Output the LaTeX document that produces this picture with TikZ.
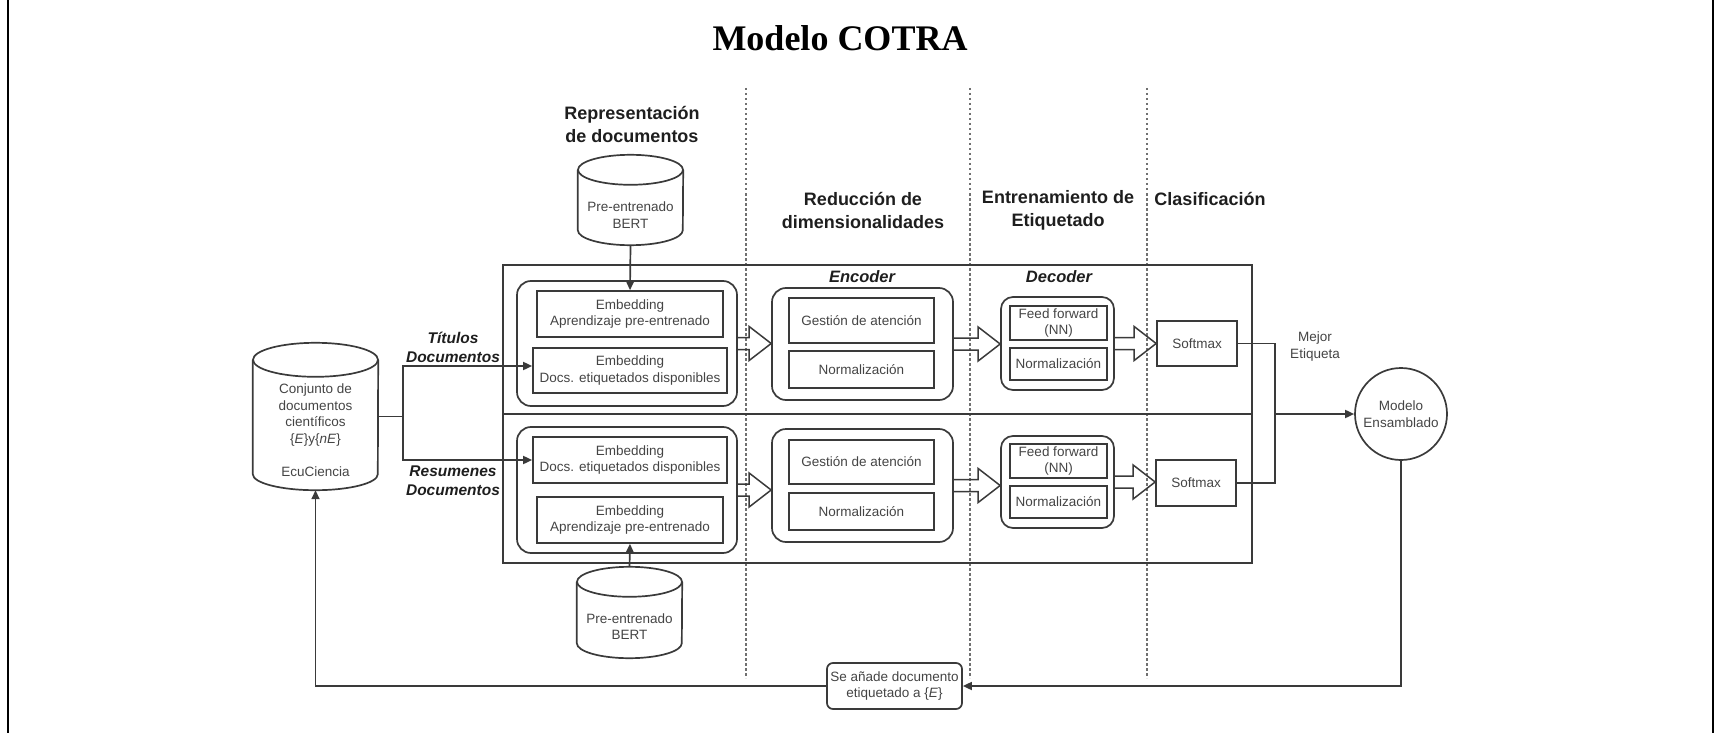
\documentclass[tikz,border=0pt]{standalone}
\usepackage{fontspec}
\setmainfont{Liberation Sans}
\newfontfamily\titlefont{Liberation Serif}
\usetikzlibrary{arrows.meta,calc}
\definecolor{linecol}{HTML}{3A3A3A}
\definecolor{txtcol}{HTML}{444444}
\definecolor{dashcol}{HTML}{707070}
\definecolor{headcol}{HTML}{1E1E1E}
\newcommand\blockarr[2]{\draw[barr] let \p1=(#1.east), \p2=(#2.west) in
  (\x1,\y1+6pt) -- (\x2-22pt,\y1+6pt) -- (\x2-22pt,\y1+17pt) -- (\x2,\y1)
  -- (\x2-22pt,\y1-17pt) -- (\x2-22pt,\y1-6pt) -- (\x1,\y1-6pt);}
\begin{document}
\begin{tikzpicture}[x=1pt,y=1pt,
  ln/.style={draw=linecol, line width=1.7pt},
  txt/.style={text=txtcol, align=center, inner sep=0, font=\fontsize{13.5pt}{16.5pt}\selectfont},
  box/.style={ln, rectangle, txt},
  grp/.style={ln, rectangle, rounded corners=14pt, inner sep=0},
  arr/.style={ln, -{Triangle[length=9pt,width=8pt]}},
  barr/.style={ln, line width=1.5pt},
  dsh/.style={draw=dashcol, line width=1.3pt, dash pattern=on 2.5pt off 2.5pt},
  sect/.style={text=headcol, align=center, inner sep=0, font=\fontsize{18pt}{23pt}\selectfont\bfseries},
  lbl/.style={text=headcol, align=center, inner sep=0, font=\fontsize{15.5pt}{19pt}\selectfont\bfseries\itshape},
]
\useasboundingbox (0,0) rectangle (1722,-733);
% frame
\draw[line width=2.5pt] (8,0) -- (8,-733);
\draw[line width=2.5pt] (1713,0) -- (1713,-733);
% title
\node[font=\titlefont\bfseries\fontsize{36pt}{40pt}\selectfont, inner sep=0] (title) at (840,-38) {Modelo COTRA};
% dividers
\draw[dsh] (746,-88) -- (746,-678);
\draw[dsh] (970,-88) -- (970,-678);
\draw[dsh] (1147,-88) -- (1147,-678);
% section titles
\node[sect] (s1) at (632,-124.5) {Representación\\de documentos};
\node[sect] (s2) at (863,-210.5) {Reducción de\\dimensionalidades};
\node[sect] (s3) at (1058,-210.5) {Entrenamiento de\\Etiquetado};
\node[sect] (s4) at (1210,-199) {Clasificación};
% container
\node[ln, rectangle, minimum width=749pt, minimum height=298pt, inner sep=0] (cont) at (877.5,-414) {};
\draw[draw=linecol, line width=2.8pt] (cont.west) -- (cont.east);
\node[lbl, font=\fontsize{16.5pt}{19pt}\selectfont\bfseries\itshape] (encl) at (862,-277) {Encoder};
\node[lbl, font=\fontsize{16.5pt}{19pt}\selectfont\bfseries\itshape] (decl) at (1059,-277) {Decoder};
% representation groups
\node[grp, minimum width=220pt, minimum height=125pt] (g1t) at (627,-343.5) {};
\node[box, minimum width=186pt, minimum height=46pt] (e1t) at (630,-314) {Embedding\\Aprendizaje pre-entrenado};
\node[box, minimum width=194pt, minimum height=45pt] (e2t) at (630,-370.5) {Embedding\\Docs. etiquetados disponibles};
\node[grp, minimum width=220pt, minimum height=126pt] (g1b) at (627,-490) {};
\node[box, minimum width=194pt, minimum height=46pt] (e2b) at (630,-460) {Embedding\\Docs. etiquetados disponibles};
\node[box, minimum width=186pt, minimum height=46pt] (e1b) at (630,-520) {Embedding\\Aprendizaje pre-entrenado};
% encoder groups
\node[grp, minimum width=181pt, minimum height=112pt] (enct) at (862.5,-344) {};
\node[box, minimum width=145pt, minimum height=45pt] (gat) at (861.5,-320.5) {Gestión de atención};
\node[box, minimum width=145pt, minimum height=37pt] (nat) at (861.5,-369.5) {Normalización};
\node[grp, minimum width=181pt, minimum height=113pt] (encb) at (862.5,-485.5) {};
\node[box, minimum width=145pt, minimum height=44pt] (gab) at (861.5,-462) {Gestión de atención};
\node[box, minimum width=145pt, minimum height=37pt] (nab) at (861.5,-511.5) {Normalización};
% decoder groups
\node[grp, rounded corners=12pt, minimum width=113pt, minimum height=93pt] (dect) at (1057.5,-343.5) {};
\node[box, minimum width=97pt, minimum height=34pt] (fft) at (1058.5,-323) {Feed forward\\(NN)};
\node[box, minimum width=97pt, minimum height=32pt] (ndt) at (1058.5,-364) {Normalización};
\node[grp, rounded corners=12pt, minimum width=113pt, minimum height=92pt] (decb) at (1057.5,-482) {};
\node[box, minimum width=97pt, minimum height=34pt] (ffb) at (1058.5,-461) {Feed forward\\(NN)};
\node[box, minimum width=97pt, minimum height=32pt] (ndb) at (1058.5,-502) {Normalización};
% softmax
\node[box, minimum width=80pt, minimum height=45pt] (smt) at (1197,-343.5) {Softmax};
\node[box, minimum width=80pt, minimum height=46pt] (smb) at (1196,-483) {Softmax};
% block arrows
\blockarr{g1t}{enct}
\blockarr{enct}{dect}
\blockarr{dect}{smt}
\blockarr{g1b}{encb}
\blockarr{encb}{decb}
\blockarr{decb}{smb}
% BERT cylinders
\node[inner sep=0, minimum width=105pt, minimum height=90pt] (bert1) at (630.5,-200) {};
\draw[ln] ([yshift=-15pt]bert1.north) ellipse[x radius=52.5pt, y radius=15pt];
\draw[ln] ([yshift=-15pt]bert1.north west) -- ([yshift=15pt]bert1.south west)
  arc[start angle=180, end angle=360, x radius=52.5pt, y radius=15pt] -- ([yshift=-15pt]bert1.north east);
\node[txt] (bert1t) at (630.5,-215) {Pre-entrenado\\BERT};
\node[inner sep=0, minimum width=105pt, minimum height=91pt] (bert2) at (629.5,-612.5) {};
\draw[ln] ([yshift=-15pt]bert2.north) ellipse[x radius=52.5pt, y radius=15pt];
\draw[ln] ([yshift=-15pt]bert2.north west) -- ([yshift=15pt]bert2.south west)
  arc[start angle=180, end angle=360, x radius=52.5pt, y radius=15pt] -- ([yshift=-15pt]bert2.north east);
\node[txt] (bert2t) at (629.5,-626.5) {Pre-entrenado\\BERT};
\draw[arr] (bert1.south) -- (e1t.north);
\draw[arr] (bert2.north) -- (e1b.south);
% EcuCiencia cylinder
\node[inner sep=0, minimum width=125pt, minimum height=147pt] (ecu) at (315.5,-416.5) {};
\draw[ln] ([yshift=-17pt]ecu.north) ellipse[x radius=62.5pt, y radius=17pt];
\draw[ln] ([yshift=-17pt]ecu.north west) -- ([yshift=16pt]ecu.south west)
  arc[start angle=180, end angle=360, x radius=62.5pt, y radius=16pt] -- ([yshift=-17pt]ecu.north east);
\node[txt] (ecut) at (315.5,-415) {Conjunto de\\documentos\\científicos\\\{\textit{E}\}y\{\textit{nE}\}};
\node[txt] (ecun) at (315.5,-472) {EcuCiencia};
% input connectors
\coordinate (split) at (403,-416.5);
\draw[ln] (ecu.east) -- (split);
\draw[arr] (split) |- ([yshift=4.5pt]e2t.west);
\draw[arr] (split) |- (e2b.west);
\node[lbl] (titl) at (453,-347.5) {Títulos\\Documentos};
\node[lbl] (resl) at (453,-481) {Resumenes\\Documentos};
% output
\node[ln, circle, minimum size=92pt, txt] (mod) at (1401,-414) {Modelo\\Ensamblado};
\coordinate (join) at (1275,-414);
\draw[ln] (smt.east) -| (join);
\draw[ln] (smb.east) -| (join);
\draw[arr] (join) -- (mod.west);
\node[txt] (mejor) at (1315,-346.5) {Mejor\\Etiqueta};
% feedback
\node[box, rounded corners=6pt, minimum width=135pt, minimum height=46pt] (add) at (894.5,-686) {Se añade documento\\etiquetado a \{\textit{E}\}};
\draw[arr] (mod.south) |- (add.east);
\draw[arr] (add.west) -| (ecu.south);
\end{tikzpicture}
\end{document}
